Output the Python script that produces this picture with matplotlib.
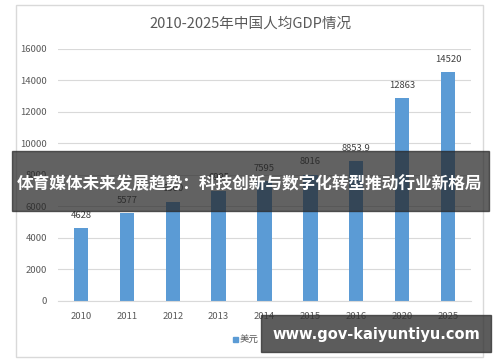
"""Bar chart: 2010-2025 China GDP per capita, with overlay banners."""

import matplotlib.pyplot as plt
from matplotlib.patches import Rectangle

plt.rcParams["font.family"] = ["Noto Sans CJK SC", "DejaVu Sans"]

years = ["2010", "2011", "2012", "2013", "2014", "2015", "2016", "2020", "2025"]
gdp_usd = [4628, 5577, 6300, 6995, 7595, 8016, 8853.9, 12863, 14520]
value_labels = ["4628", "5577", "6300", "6995", "7595", "8016", "8853.9", "12863", "14520"]
y_ticks = [0, 2000, 4000, 6000, 8000, 10000, 12000, 14000, 16000]

title = "2010-2025年中国人均GDP情况"
series_name = "美元"
banner_text = "体育媒体未来发展趋势：科技创新与数字化转型推动行业新格局"
watermark_text = "www.gov-kaiyuntiyu.com"

BAR_COLOR = "#5b9bd5"
TEXT_COLOR = "#595959"
GRID_COLOR = "#d9d9d9"

W, H = 500, 362
fig = plt.figure(figsize=(W / 100, H / 100), dpi=100)


def fx(px):
    return px / W


def fy(py):
    return 1 - py / H


# chart frame
fig.patches.append(Rectangle((fx(16), fy(357)), fx(467), (357 - 5) / H,
                             transform=fig.transFigure, fill=False,
                             edgecolor=GRID_COLOR, linewidth=1.0))

ax = fig.add_axes([fx(58), fy(300.7), fx(413), (300.7 - 49) / H])
x = list(range(len(years)))
ax.bar(x, gdp_usd, width=0.31, color=BAR_COLOR, zorder=2, label=series_name)
for xi, v, lab in zip(x, gdp_usd, value_labels):
    ax.annotate(lab, (xi, v), xytext=(0, 6), textcoords="offset points",
                ha="center", va="bottom", fontsize=6.8, color="#404040")

ax.set_xlim(-0.5, len(years) - 0.5)
ax.set_ylim(0, 16000)
ax.set_yticks(y_ticks)
ax.set_yticklabels([str(t) for t in y_ticks])
ax.set_xticks(x)
ax.set_xticklabels(years)
ax.tick_params(length=0, labelsize=6.8, colors=TEXT_COLOR, pad=8)
ax.grid(axis="y", color=GRID_COLOR, linewidth=0.8, zorder=0)
for side in ("top", "right", "left"):
    ax.spines[side].set_visible(False)
ax.spines["bottom"].set_color(GRID_COLOR)

fig.text(0.5, fy(24), title, ha="center", va="center", fontsize=10.5,
         color=TEXT_COLOR)

# legend
fig.patches.append(Rectangle((fx(233), fy(342)), fx(5), 5 / H,
                             transform=fig.transFigure, color=BAR_COLOR))
fig.text(fx(240), fy(339), series_name, ha="left", va="center",
         fontsize=6.8, color=TEXT_COLOR)

# overlay banner
fig.patches.append(Rectangle((fx(12), fy(211)), fx(477), 60 / H,
                             transform=fig.transFigure, color="#262626",
                             alpha=0.72, zorder=10))
fig.text(fx(250), fy(184), banner_text, ha="center", va="center",
         fontsize=12, fontweight="bold", color="white", zorder=11)

# watermark
fig.patches.append(Rectangle((fx(261), fy(352)), fx(230), 37 / H,
                             transform=fig.transFigure, color="#333333",
                             alpha=0.8, zorder=10))
fig.text(fx(376), fy(334), watermark_text, ha="center", va="center",
         fontsize=10.5, fontweight="bold", color="white", zorder=11,
         family=["DejaVu Sans"])

fig.savefig("out.png", dpi=100)
